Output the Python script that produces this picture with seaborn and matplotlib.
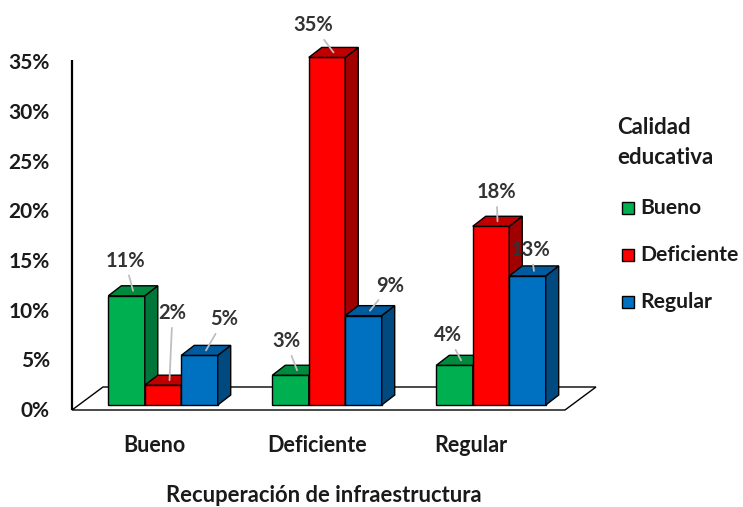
import matplotlib
matplotlib.use('Agg')
import matplotlib.pyplot as plt
import matplotlib.transforms as mtransforms
import numpy as np
import pandas as pd
import seaborn as sns
from matplotlib.patches import Polygon, Rectangle

# data
categories = ['Bueno', 'Deficiente', 'Regular']
levels = ['Bueno', 'Deficiente', 'Regular']
pct_bueno = [11, 3, 4]
pct_deficiente = [2, 35, 18]
pct_regular = [5, 9, 13]
yticks = [0, 5, 10, 15, 20, 25, 30, 35]

# colours: front, top, side
front = ['#00B050', '#FF0000', '#0070C0']
top = ['#008A3E', '#C00000', '#005A9E']
side = ['#00763A', '#A00000', '#004A80']

# label offsets (px) from the top face of each bar
label_offsets = {
    ('Bueno', 'Bueno'): (-8, 30), ('Deficiente', 'Bueno'): (3, 67), ('Regular', 'Bueno'): (18, 31),
    ('Bueno', 'Deficiente'): (-11, 29), ('Deficiente', 'Deficiente'): (-20, 27),
    ('Regular', 'Deficiente'): (20, 25),
    ('Bueno', 'Regular'): (-13, 25), ('Deficiente', 'Regular'): (-1, 29), ('Regular', 'Regular'): (-3, 21),
}
xtick_shift = [-9, -10, -20]

df = pd.DataFrame({
    'infra': categories * 3,
    'calidad': np.repeat(levels, 3),
    'pct': pct_bueno + pct_deficiente + pct_regular,
})

sns.set_theme(style='white')
plt.rcParams['font.family'] = ['Lato', 'DejaVu Sans']
plt.rcParams['font.weight'] = 'bold'
txt = '#1a1a1a'

W, H = 743, 507
fig = plt.figure(figsize=(W / 100, H / 100), dpi=100)
ax = fig.add_axes([72 / W, (H - 424.9) / H, 542 / W, 377.4 / H])

sns.barplot(data=df, x='infra', y='pct', hue='calidad', order=categories, hue_order=levels,
            palette=front, saturation=1, width=0.667, edgecolor='black', linewidth=1,
            legend=False, ax=ax)

xmin, xmax, ymin, ymax = -0.555, 2.75, -2, 36
ax.set_xlim(xmin, xmax)
ax.set_ylim(ymin, ymax)
for s in ax.spines.values():
    s.set_visible(False)

ppx = ax.bbox.width / (xmax - xmin)
ppy = ax.bbox.height / (ymax - ymin)
dx, dy = 13 / ppx, 10 / ppy

# floor
fy0, fy1 = -0.5, -0.5 + 23 / ppy
fx0, fx1 = xmin, xmin + 493 / ppx
fd = 31 / ppx
ax.add_patch(Polygon([(fx0, fy0), (fx1, fy0), (fx1 + fd, fy1), (fx0 + fd, fy1)], closed=True,
                     facecolor='white', edgecolor='black', lw=1, zorder=1, clip_on=False))
ax.plot([xmin, xmin], [fy0, 34.7], color='black', lw=1.6, zorder=2, clip_on=False,
        solid_capstyle='butt')

# 3D faces
bars = []
for i, cont in enumerate(ax.containers):
    for j, bar in enumerate(cont):
        bars.append((bar.get_x(), i, j, bar))
bars.sort(key=lambda b: b[0])
for k, (x0, i, j, bar) in enumerate(bars):
    w, h = bar.get_width(), bar.get_height()
    bar.set_zorder(3 + 2 * k)
    ax.add_patch(Polygon([(x0 + w, 0), (x0 + w + dx, dy), (x0 + w + dx, h + dy), (x0 + w, h)],
                         closed=True, facecolor=side[i], edgecolor='black', lw=1,
                         zorder=4 + 2 * k, clip_on=False))
    ax.add_patch(Polygon([(x0, h), (x0 + dx, h + dy), (x0 + w + dx, h + dy), (x0 + w, h)],
                         closed=True, facecolor=top[i], edgecolor='black', lw=1,
                         zorder=4 + 2 * k, clip_on=False))
    ox, oy = label_offsets[(levels[i], categories[j])]
    ax.annotate(f'{h:g}%', xy=(x0 + w / 2 + dx / 2, h + dy / 2), xytext=(ox, oy),
                textcoords='offset pixels', ha='center', va='center', fontsize=14.5,
                fontweight='bold', color='#333333', zorder=40,
                arrowprops=dict(arrowstyle='-', color='#BFBFBF', lw=1.3, shrinkA=1, shrinkB=0))

ax.set_yticks(yticks)
ax.set_yticklabels([f'{v}%' for v in yticks])
ax.tick_params(axis='y', length=0, pad=16, labelsize=15, labelcolor=txt)
ax.set_xticks(range(len(categories)))
ax.set_xticklabels(categories)
ax.tick_params(axis='x', length=0, pad=7, labelsize=15.5, labelcolor=txt)
for lab, sh in zip(ax.get_xticklabels(), xtick_shift):
    lab.set_transform(lab.get_transform()
                      + mtransforms.ScaledTranslation(sh / 100, 0, fig.dpi_scale_trans))
ydown = mtransforms.ScaledTranslation(0, -4 / 100, fig.dpi_scale_trans)
for lab in ax.get_yticklabels():
    lab.set_transform(lab.get_transform() + ydown)
for lab in ax.get_yticklabels() + ax.get_xticklabels():
    lab.set_fontweight('bold')
ax.set_xlabel('')
ax.set_ylabel('')

fig.text(324 / W, 1 - 495 / H, 'Recuperación de infraestructura', ha='center', va='center',
         fontsize=15.8, fontweight='bold', color=txt)

# legend
fig.text(617 / W, 1 - 128 / H, 'Calidad', ha='left', va='center', fontsize=16,
         fontweight='bold', color=txt)
fig.text(617 / W, 1 - 157 / H, 'educativa', ha='left', va='center', fontsize=16,
         fontweight='bold', color=txt)
for i, lev in enumerate(levels):
    yc = 208 + 47 * i
    fig.add_artist(Rectangle((622 / W, 1 - (yc + 6) / H), 12 / W, 12 / H, transform=fig.transFigure,
                             facecolor=front[i], edgecolor='black', lw=1))
    fig.text(640 / W, 1 - yc / H, lev, ha='left', va='center', fontsize=15.2,
             fontweight='bold', color=txt)

fig.savefig('out.png', dpi=100)
